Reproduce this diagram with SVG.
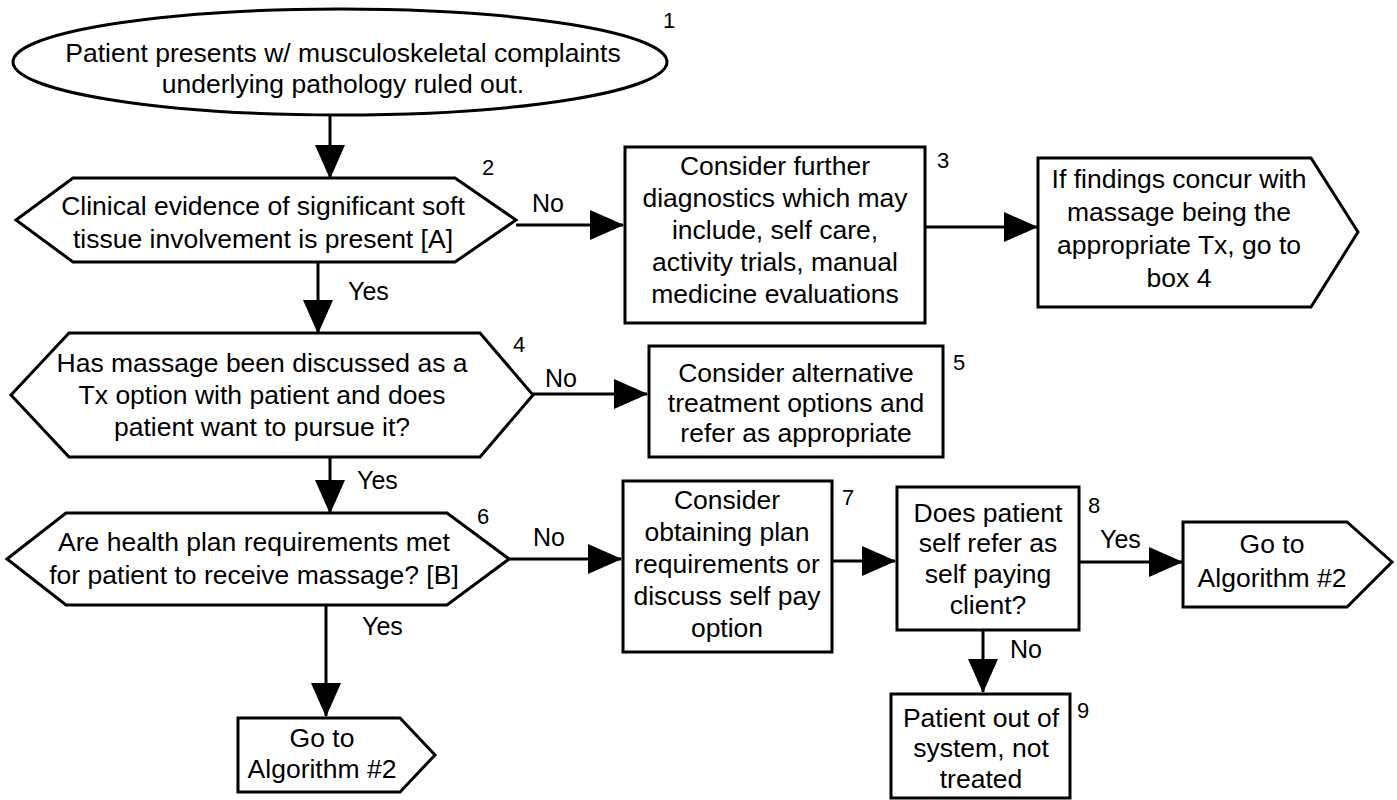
<svg xmlns="http://www.w3.org/2000/svg" width="1397" height="800" viewBox="0 0 1397 800">
<defs>
<style>
.s{fill:#fff;stroke:#000;stroke-width:3}
.t{font-family:"Liberation Sans",Arial,sans-serif;font-size:26.5px;fill:#000;text-anchor:middle}
.l{font-family:"Liberation Sans",Arial,sans-serif;font-size:25px;fill:#000}
.n{font-family:"Liberation Sans",Arial,sans-serif;font-size:22px;fill:#000}
.c{fill:none;stroke:#000;stroke-width:3}
</style>
<marker id="ah" markerUnits="userSpaceOnUse" markerWidth="34" markerHeight="30" refX="33" refY="15" orient="auto">
<path d="M0,0 L34,15 L0,30 z" fill="#000"/>
</marker>
</defs>
<rect width="1397" height="800" fill="#fff"/>
<g id="connectors">
<line class="c" x1="330" y1="115" x2="330" y2="178" marker-end="url(#ah)"/>
<line class="c" x1="516" y1="225" x2="623" y2="225" marker-end="url(#ah)"/>
<line class="c" x1="925" y1="227" x2="1037" y2="227" marker-end="url(#ah)"/>
<line class="c" x1="318" y1="262" x2="318" y2="333" marker-end="url(#ah)"/>
<line class="c" x1="533" y1="394" x2="647" y2="394" marker-end="url(#ah)"/>
<line class="c" x1="330" y1="457" x2="330" y2="513" marker-end="url(#ah)"/>
<line class="c" x1="509" y1="559" x2="621" y2="559" marker-end="url(#ah)"/>
<line class="c" x1="832" y1="561" x2="895" y2="561" marker-end="url(#ah)"/>
<line class="c" x1="1079" y1="562" x2="1182" y2="562" marker-end="url(#ah)"/>
<line class="c" x1="326" y1="605" x2="326" y2="716" marker-end="url(#ah)"/>
<line class="c" x1="983" y1="630" x2="983" y2="692" marker-end="url(#ah)"/>
<text class="l" x="532" y="212">No</text>
<text class="l" x="348" y="300">Yes</text>
<text class="l" x="545" y="387">No</text>
<text class="l" x="357" y="489">Yes</text>
<text class="l" x="533" y="546">No</text>
<text class="l" x="362" y="635">Yes</text>
<text class="l" x="1100" y="548">Yes</text>
<text class="l" x="1010" y="658">No</text>
</g>
<g id="node1">
<ellipse class="s" cx="340" cy="62" rx="327" ry="53"/>
<text class="t" x="343" y="62">Patient presents w/ musculoskeletal complaints</text>
<text class="t" x="343" y="93">underlying pathology ruled out.</text>
<text class="n" x="663" y="28">1</text>
</g>
<g id="node2">
<polygon class="s" points="16,220 73,178 455,178 516,220 455,262 73,262"/>
<text class="t" x="263" y="215">Clinical evidence of significant soft</text>
<text class="t" x="263" y="248">tissue involvement is present [A]</text>
<text class="n" x="482" y="175">2</text>
</g>
<g id="node3">
<rect class="s" x="625" y="147" width="300" height="176"/>
<text class="t" x="775" y="175">Consider further</text>
<text class="t" x="775" y="207">diagnostics which may</text>
<text class="t" x="775" y="239">include, self care,</text>
<text class="t" x="775" y="271">activity trials, manual</text>
<text class="t" x="775" y="303">medicine evaluations</text>
<text class="n" x="937" y="168">3</text>
</g>
<g id="node3b">
<polygon class="s" points="1038,158 1311,158 1358,232 1311,307 1038,307"/>
<text class="t" x="1179" y="188">If findings concur with</text>
<text class="t" x="1179" y="221">massage being the</text>
<text class="t" x="1179" y="254">appropriate Tx, go to</text>
<text class="t" x="1179" y="287">box 4</text>
</g>
<g id="node4">
<polygon class="s" points="11,395 69,333 480,333 533,395 480,457 69,457"/>
<text class="t" x="262" y="372">Has massage been discussed as a</text>
<text class="t" x="262" y="404">Tx option with patient and does</text>
<text class="t" x="262" y="436">patient want to pursue it?</text>
<text class="n" x="513" y="352">4</text>
</g>
<g id="node5">
<rect class="s" x="649" y="346" width="294" height="111"/>
<text class="t" x="796" y="382">Consider alternative</text>
<text class="t" x="796" y="412">treatment options and</text>
<text class="t" x="796" y="442">refer as appropriate</text>
<text class="n" x="953" y="370">5</text>
</g>
<g id="node6">
<polygon class="s" points="7,559 66,513 447,513 509,559 447,605 66,605"/>
<text class="t" x="254" y="551">Are health plan requirements met</text>
<text class="t" x="254" y="584">for patient to receive massage? [B]</text>
<text class="n" x="477" y="524">6</text>
</g>
<g id="node7">
<rect class="s" x="623" y="481" width="209" height="171"/>
<text class="t" x="727" y="509">Consider</text>
<text class="t" x="727" y="541">obtaining plan</text>
<text class="t" x="727" y="573">requirements or</text>
<text class="t" x="727" y="605">discuss self pay</text>
<text class="t" x="727" y="637">option</text>
<text class="n" x="842" y="505">7</text>
</g>
<g id="node8">
<rect class="s" x="897" y="487" width="182" height="143"/>
<text class="t" x="988" y="522">Does patient</text>
<text class="t" x="988" y="552">self refer as</text>
<text class="t" x="988" y="583">self paying</text>
<text class="t" x="988" y="614">client?</text>
<text class="n" x="1088" y="513">8</text>
</g>
<g id="node8b">
<polygon class="s" points="1183,522 1347,522 1392,562 1347,607 1183,607"/>
<text class="t" x="1272" y="553">Go to</text>
<text class="t" x="1272" y="587">Algorithm #2</text>
</g>
<g id="node9">
<rect class="s" x="891" y="694" width="179" height="104"/>
<text class="t" x="981" y="727">Patient out of</text>
<text class="t" x="981" y="757">system, not</text>
<text class="t" x="981" y="788">treated</text>
<text class="n" x="1077" y="718">9</text>
</g>
<g id="node6b">
<polygon class="s" points="238,718 400,718 435,755 400,792 238,792"/>
<text class="t" x="322" y="747">Go to</text>
<text class="t" x="322" y="778">Algorithm #2</text>
</g>
</svg>
